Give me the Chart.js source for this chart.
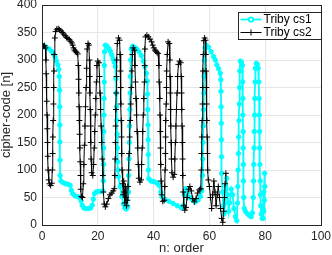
<!DOCTYPE html>
<html>
<head>
<meta charset="utf-8">
<script src="https://cdn.jsdelivr.net/npm/chart.js@4.4.1/dist/chart.umd.min.js"></script>
<style>
  html, body { margin: 0; padding: 0; background: #fff; }
  #wrap { width: 332px; height: 255px; }
</style>
</head>
<body>
<div id="wrap"><canvas id="cipherChart" width="332" height="255"></canvas></div>
<script>
// Series
const seriesNames = ['Triby cs1', 'Triby cs2'];

const cs1X = [0.3, 1.0, 1.8, 2.6, 3.4, 4.1, 4.7, 5.2, 5.7, 6.0, 6.2,
  6.3, 6.35, 6.4, 6.4, 6.45, 6.5,
  6.8, 7.6, 8.5, 9.4, 10.1, 10.5, 11.0, 11.8, 12.6, 13.4, 14.0, 14.4, 15.0, 15.8, 16.6, 17.4, 18.0, 18.4, 18.8, 19.4, 20.2, 21.0, 21.8,
  22.0, 22.05, 22.1, 22.15, 22.2, 22.25, 22.3, 22.35, 22.4, 22.7, 23.3, 23.9, 24.5, 25.0, 25.5, 25.9, 26.3,
  26.5, 26.6, 26.7, 26.8, 26.9, 27.0, 27.1, 27.2, 27.4,
  28.0, 28.6, 29.2, 29.7, 30.2, 30.7,
  31.0, 31.1, 31.2, 31.3, 31.4, 31.5, 31.6, 31.7, 31.8, 32.0, 32.5, 33.2, 34.0, 34.8, 35.6, 36.3, 36.9, 37.4, 37.7,
  37.8, 37.9, 38.0, 38.05, 38.1, 38.15, 38.3, 39.0, 39.8, 40.6, 41.3, 42.0, 42.6, 43.0, 44.0, 45.5, 47.0, 48.5, 50.0,
  50.6, 51.0, 51.5, 52.2, 53.0, 54.0, 55.0, 56.0, 56.8, 57.3,
  57.5, 57.6, 57.7, 57.8, 57.9, 58.0, 58.1, 58.2, 58.4, 58.9, 59.7, 60.6, 61.5, 62.1, 62.7, 63.3, 63.9,
  64.1, 64.15, 64.2, 64.25, 64.3, 64.35, 64.4,
  64.7, 65.0, 65.3, 65.6, 65.9, 66.2, 66.5, 66.9, 67.3, 67.8, 68.3, 68.8, 69.3, 69.8,
  70.1, 70.2, 70.3, 70.4, 70.5, 70.6, 70.7, 70.8, 70.9, 71.1, 71.5, 71.8,
  71.9, 72.0, 72.0, 72.1, 72.1, 72.2, 72.2, 72.3, 72.5, 73.0, 73.7, 74.4, 75.0, 75.4,
  75.7, 75.8, 75.9, 76.0, 76.1, 76.2, 76.3, 76.4, 76.5, 76.8, 77.2, 77.5,
  77.7, 77.8, 77.9, 78.0, 78.0, 78.1, 78.2, 78.3, 78.4, 78.6, 78.9,
  79.2, 79.5, 79.8, 79.9, 79.7, 79.5, 79.3];
const cs1Y = [326, 325, 322, 320, 316, 311, 305, 298, 291, 283, 270,
  245, 215, 182, 151, 118, 90,
  80, 77, 75, 74, 72, 63, 57, 53, 52, 50, 44, 36, 31, 30, 30, 31, 36, 47, 57, 60, 61, 61, 62,
  80, 110, 140, 170, 200, 230, 260, 290, 315, 327, 325, 321, 316, 309, 302, 296, 288,
  266, 240, 215, 190, 165, 140, 115, 100, 88,
  70, 52, 38, 31, 29, 33,
  60, 90, 120, 150, 180, 210, 240, 270, 300, 320, 325, 323, 320, 315, 308, 298, 288, 276, 262,
  238, 210, 182, 155, 128, 100, 84, 80, 79, 78, 76, 72, 60, 51, 47, 43, 39, 35, 31,
  35, 55, 66, 58, 50, 45, 42, 46, 52, 62,
  90, 120, 150, 180, 210, 240, 270, 300, 322, 327, 323, 315, 306, 300, 291, 284, 276,
  264, 243, 215, 185, 155, 124, 94,
  60, 35, 20, 40, 70, 85, 55, 25, 40, 65, 55, 30, 15, 8,
  40, 70, 100, 130, 160, 190, 220, 250, 280, 298, 296, 290,
  260, 230, 200, 170, 140, 110, 80, 50, 30, 24, 20, 17, 15, 22,
  50, 80, 110, 140, 170, 200, 230, 260, 285, 294, 292, 285,
  260, 230, 200, 170, 140, 110, 80, 55, 35, 20, 12,
  30, 60, 94, 70, 45, 25, 12];

const cs2X = [0.5, 0.9, 1.2, 1.4, 1.5, 1.6, 1.7, 1.8, 1.9, 2.0, 2.1, 2.2, 2.4, 2.7, 3.1, 3.5,
  3.7, 3.8, 3.9, 4.0, 4.1, 4.2, 4.3, 4.4, 4.6, 4.9, 5.3, 5.8, 6.3, 6.8,
  7.3, 7.8, 8.3, 8.8, 9.3, 9.8, 10.3, 10.7, 11.0, 11.3, 11.6, 12.0, 12.4, 12.8,
  13.0, 13.1, 13.2, 13.3, 13.4, 13.5, 13.6, 13.7, 13.8, 13.9, 14.1, 14.5,
  14.8, 15.0, 15.2, 15.4, 15.6, 15.8, 16.0, 16.2, 16.5, 16.8,
  17.0, 17.1, 17.2, 17.3, 17.4, 17.5, 17.6, 17.8, 18.2,
  18.5, 18.7, 18.9, 19.1, 19.3, 19.5, 19.7, 20.0, 20.4,
  20.6, 20.8, 21.0, 21.2, 21.4, 21.6, 21.8, 22.0, 22.3, 22.7, 23.2, 23.8, 24.4, 25.0, 25.5, 25.9,
  26.1, 26.2, 26.3, 26.4, 26.5, 26.6, 26.7, 26.8, 27.0, 27.4, 27.8,
  28.0, 28.1, 28.2, 28.3, 28.4, 28.5, 28.6, 28.7, 28.9, 29.1, 29.3, 29.5, 29.7, 29.9, 30.1, 30.3, 30.6, 30.8,
  31.0, 31.2, 31.4, 31.6, 31.8, 32.0, 32.2, 32.4, 32.7, 33.1,
  33.3, 33.5, 33.7, 33.9, 34.1, 34.3, 34.5, 34.7, 35.1, 35.5,
  35.7, 35.9, 36.1, 36.3, 36.5, 36.7, 36.8, 36.9, 37.1, 37.6, 38.1, 38.7, 39.3, 39.7, 40.1, 40.5, 40.8, 41.2, 41.6,
  41.9, 42.0, 42.2, 42.3, 42.4, 42.5, 42.6, 42.7, 42.9, 43.3, 43.8,
  44.0, 44.1, 44.2, 44.3, 44.4, 44.5, 44.6, 44.7, 44.9, 45.2, 45.6,
  45.8, 45.9, 46.0, 46.1, 46.2, 46.3, 46.4, 46.6, 47.0, 47.4,
  47.6, 47.8, 48.0, 48.2, 48.4, 48.6, 48.9, 49.3, 49.7,
  49.9, 50.0, 50.1, 50.2, 50.3, 50.4, 50.5, 50.6, 50.8, 51.2, 51.6, 52.0, 52.5, 53.0, 53.5, 54.0, 54.6, 55.2, 55.8, 56.4, 56.9,
  57.1, 57.2, 57.3, 57.4, 57.5, 57.6, 57.7, 57.8, 58.0, 58.3, 58.6,
  58.7, 58.8, 58.9, 59.0, 59.1, 59.2, 59.3, 59.4, 59.6,
  60.0, 60.4, 60.8, 61.2, 61.6, 62.0, 62.4, 62.8, 63.2, 63.6, 64.0, 64.4, 64.8, 65.1, 65.4, 65.6, 65.9];
const cs2Y = [325, 326, 322, 300, 275, 250, 225, 200, 175, 150, 125, 100, 82, 75, 72, 76,
  100, 130, 160, 190, 220, 250, 280, 310, 340, 352, 356, 357, 355, 353,
  350, 347, 344, 341, 339, 337, 334, 331, 327, 322, 318, 316, 314, 311,
  290, 265, 240, 215, 190, 165, 140, 115, 90, 65, 52, 50,
  75, 110, 145, 180, 215, 250, 285, 320, 330, 327,
  300, 270, 240, 210, 180, 150, 120, 95, 90,
  110, 140, 170, 200, 230, 260, 290, 298, 295,
  270, 240, 210, 180, 150, 120, 90, 60, 38, 33, 38, 48, 55, 58, 62, 66,
  90, 120, 150, 180, 210, 240, 270, 300, 330, 340, 336,
  310, 280, 250, 220, 190, 160, 130, 100, 75, 55, 80, 60, 40, 70, 50, 35, 45, 70,
  100, 130, 160, 190, 220, 250, 280, 310, 322, 318,
  290, 260, 230, 200, 170, 140, 110, 85, 78, 82,
  110, 140, 170, 200, 230, 260, 290, 320, 342, 345, 342, 338, 333, 327, 322, 318, 316, 314, 312,
  290, 260, 230, 200, 170, 140, 110, 80, 55, 43, 45,
  70, 100, 130, 160, 190, 220, 250, 280, 310, 333, 330,
  300, 270, 240, 210, 180, 150, 120, 95, 87, 92,
  120, 150, 180, 210, 240, 270, 292, 298, 295,
  270, 240, 210, 180, 150, 120, 90, 60, 35, 27, 32, 50, 65, 70, 62, 48, 42, 48, 58, 64, 66,
  100, 130, 160, 190, 220, 250, 280, 310, 335, 340, 336,
  310, 280, 250, 220, 190, 160, 130, 100, 82,
  70, 50, 30, 55, 80, 60, 35, 55, 70, 50, 30, 12, 5, 25, 50, 75, 94];

const xTicks = [0, 20, 40, 60, 80, 100];
const yTicks = [0, 50, 100, 150, 200, 250, 300, 350, 400];

const toPoints = (xs, ys) => xs.map((x, i) => ({ x: x, y: ys[i] }));

const axisColor = '#262626';
const gridColor = '#e6e6e6';
const tickFont = { family: 'Liberation Sans, Arial, sans-serif', size: 12 };
const titleFont = { family: 'Liberation Sans, Arial, sans-serif', size: 13, lineHeight: 1.0 };

// Box around the axes plus a MATLAB-style legend in the top right
const boxAndLegend = {
    id: 'boxAndLegend',
    afterDraw(chart) {
        const ctx = chart.ctx;
        const area = chart.chartArea;
        ctx.save();
        ctx.strokeStyle = axisColor;
        ctx.lineWidth = 1;
        ctx.strokeRect(Math.round(area.left) + 0.5, Math.round(area.top) + 0.5,
            Math.round(area.right - area.left), Math.round(area.bottom - area.top));

        // legend
        const bx = Math.round(area.right) - 83 + 0.5;
        const by = Math.round(area.top) + 7 + 0.5;
        ctx.fillStyle = '#fff';
        ctx.fillRect(bx, by, 83, 27);
        ctx.strokeStyle = axisColor;
        ctx.lineWidth = 1;
        ctx.strokeRect(bx, by, 83, 27);
        ctx.font = '12px Liberation Sans, Arial, sans-serif';
        ctx.textBaseline = 'middle';
        chart.data.datasets.forEach((ds, i) => {
            const rowY = by + 7 + i * 13;
            ctx.strokeStyle = ds.borderColor;
            ctx.lineWidth = ds.borderWidth;
            ctx.beginPath();
            ctx.moveTo(bx + 2, rowY);
            ctx.lineTo(bx + 23, rowY);
            ctx.stroke();
            Chart.helpers.drawPoint(ctx, {
                pointStyle: ds.pointStyle,
                radius: ds.pointRadius,
                borderWidth: 1
            }, bx + 12.5, rowY);
            ctx.fillStyle = '#000';
            ctx.fillText(ds.label, bx + 25, rowY + 0.5);
        });
        ctx.restore();
    }
};

const ctx = document.getElementById('cipherChart').getContext('2d');
const cipherChart = new Chart(ctx, {
    type: 'line',
    data: {
        datasets: [
            {
                label: seriesNames[0],
                data: toPoints(cs1X, cs1Y),
                borderColor: '#00ffff',
                backgroundColor: '#00ffff',
                borderWidth: 1.8,
                pointStyle: 'circle',
                pointRadius: 2.2,
                pointBackgroundColor: '#00ffff',
                pointBorderColor: '#00ffff',
                pointBorderWidth: 1,
                tension: 0,
                order: 2
            },
            {
                label: seriesNames[1],
                data: toPoints(cs2X, cs2Y),
                borderColor: '#000000',
                backgroundColor: '#000000',
                borderWidth: 1,
                pointStyle: 'cross',
                pointRadius: 3,
                pointBorderColor: '#000000',
                pointBorderWidth: 1,
                tension: 0,
                order: 1
            }
        ]
    },
    options: {
        responsive: false,
        animation: false,
        devicePixelRatio: 1,
        layout: { padding: { top: 5, right: 11, left: 0, bottom: 0 } },
        plugins: {
            legend: { display: false },
            tooltip: { enabled: false }
        },
        scales: {
            x: {
                type: 'linear',
                min: 0,
                max: 100,
                afterBuildTicks(scale) {
                    scale.ticks = xTicks.map(v => ({ value: v }));
                },
                afterFit(scale) {
                    scale.height = 30;
                    scale.paddingLeft = 0;
                    scale.paddingRight = 0;
                },
                grid: { color: gridColor, drawTicks: false },
                border: { color: axisColor },
                ticks: { color: axisColor, font: tickFont, padding: 4, maxRotation: 0 },
                title: { display: true, text: 'n: order', color: axisColor, font: titleFont, padding: 0 }
            },
            y: {
                type: 'linear',
                min: 0,
                max: 400,
                afterBuildTicks(scale) {
                    scale.ticks = yTicks.map(v => ({ value: v }));
                },
                afterFit(scale) {
                    scale.width = 42;
                    scale.paddingTop = 0;
                    scale.paddingBottom = 0;
                },
                grid: { color: gridColor, drawTicks: false },
                border: { color: axisColor },
                ticks: { color: axisColor, font: tickFont, padding: 5 },
                title: { display: true, text: 'cipher-code [n]', color: axisColor, font: titleFont, padding: 0 }
            }
        }
    },
    plugins: [boxAndLegend]
});
</script>
</body>
</html>
